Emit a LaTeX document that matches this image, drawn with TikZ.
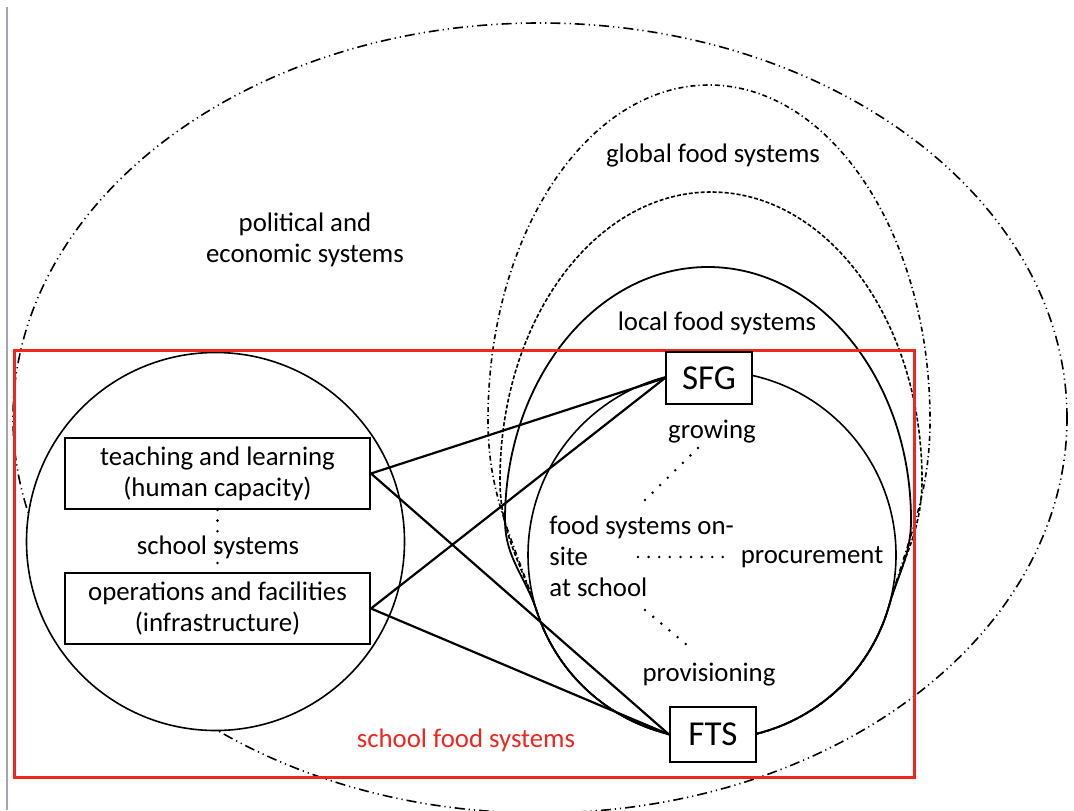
\documentclass[tikz,border=0pt]{standalone}
\usepackage{fontspec}
\setmainfont{Carlito}
\usepackage{tikz}
\usetikzlibrary{shadows}

\definecolor{schoolred}{RGB}{238,38,30}
\definecolor{edgegray}{RGB}{165,165,175}

\tikzset{
  txt/.style={font=\fontsize{13.4}{15.5}\selectfont, align=center, inner sep=0pt},
  sysbox/.style={draw, fill=white, line width=1pt, align=center,
    minimum width=152.5pt, minimum height=35.5pt, inner sep=1pt,
    font=\fontsize{13.4}{15.5}\selectfont,
    drop shadow={shadow xshift=.6pt, shadow yshift=-.6pt, opacity=.35}},
  sitebox/.style={draw, fill=white, line width=1pt,
    minimum width=43pt, minimum height=26pt, inner sep=1pt,
    font=\fontsize{17.5}{20}\selectfont,
    drop shadow={shadow xshift=.6pt, shadow yshift=-.6pt, opacity=.35}},
  link/.style={line width=1.1pt},
  dotline/.style={line width=1.4pt, line cap=round, dash pattern=on 0pt off 5.3pt},
  polecon/.style={line width=.8pt, dash pattern=on 5pt off 2pt on .6pt off 2pt on .6pt off 2pt},
  globalring/.style={line width=.8pt, dash pattern=on 2.5pt off 1.5pt on .6pt off 1.5pt},
  midring/.style={line width=.8pt, dash pattern=on 2pt off 1pt},
  localring/.style={line width=.9pt},
}

\begin{document}
\begin{tikzpicture}[x=0.5pt, y=0.5pt]
\useasboundingbox (0,0) rectangle (1074,810);

% page edge
\draw[edgegray, line width=1pt] (7,0) -- (7,803);

% political and economic systems
\draw[polecon] (540,392) ellipse[x radius=527, y radius=395];

% food system rings, all closing along the bottom of the on-site circle
\coordinate (core) at (712,255);
\coordinate (ringL) at (537,198);
\coordinate (ringR) at (889,204);
\draw[globalring] (ringL) to[out=108,in=-90] (488,390)
    arc[start angle=180, end angle=0, x radius=221, y radius=335]
    to[out=-90,in=74] (ringR) arc[start angle=-16, end angle=-162, radius=184];
\draw[midring] (ringL) to[out=108,in=-90] (500,330)
    arc[start angle=180, end angle=0, x radius=211, y radius=288]
    to[out=-90,in=74] (ringR) arc[start angle=-16, end angle=-162, radius=184];
\draw[localring] (ringL) to[out=108,in=-90] (505,290)
    arc[start angle=180, end angle=0, x radius=203, y radius=253]
    to[out=-90,in=74] (ringR) arc[start angle=-16, end angle=-162, radius=184];
\draw[line width=.8pt] (core) circle[radius=184];

% school systems
\coordinate (school) at (215.5,268.5);
\draw[line width=.8pt, fill=white] (school) circle[radius=189];

% school food systems frame
\draw[schoolred, line width=1.5pt] (14,33) rectangle (914,460);

\node[txt] (poltext) at (305,570) {political and\\economic systems};
\node[txt] (globaltext) at (713,655) {global food systems};
\node[txt] (localtext) at (717,487) {local food systems};
\node[txt, schoolred] (sfstext) at (466,70) {school food systems};

\node[sysbox] (teach) at (217.5,336.5) {teaching and learning\\(human capacity)};
\node[sysbox] (ops) at (217.5,201.5) {operations and facilities\\(infrastructure)};
\draw[dotline] (teach.south) -- (ops.north);
\node[txt] (schooltext) at (218,263) {school systems};

% on-site food systems
\node[txt] (growing) at (712,378) {growing};
\node[txt, align=left, anchor=west] (onsite) at (549,254) {food systems on-\\site\\at school};
\node[txt] (procure) at (812,253) {procurement};
\node[txt] (provision) at (709,135) {provisioning};
\coordinate (grow-a) at (698,362);
\coordinate (grow-b) at (645,310);
\coordinate (proc-a) at (638,253);
\coordinate (proc-b) at (723,253);
\coordinate (prov-a) at (645,200);
\coordinate (prov-b) at (693,160);
\draw[dotline] (grow-a) -- (grow-b);
\draw[dotline] (proc-a) -- (proc-b);
\draw[dotline] (prov-a) -- (prov-b);

\node[sitebox] (sfg) at (709,432) {SFG};
\node[sitebox, minimum height=27.5pt] (fts) at (713,75.5) {FTS};

\draw[link] (teach.east) -- (sfg.west);
\draw[link] (teach.east) -- (fts.west);
\draw[link] (ops.east) -- (sfg.west);
\draw[link] (ops.east) -- (fts.west);
\end{tikzpicture}
\end{document}
